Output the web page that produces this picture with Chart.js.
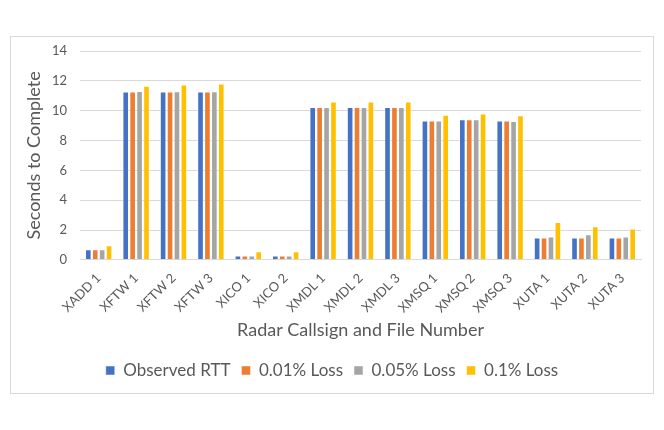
<!DOCTYPE html>
<html>
<head>
<meta charset="utf-8">
<script src="https://cdn.jsdelivr.net/npm/chart.js@4/dist/chart.umd.min.js"></script>
<style>
  html, body { margin: 0; padding: 0; background: #fff; }
  #frame {
    position: absolute; left: 10px; top: 36px;
    width: 642px; height: 356px;
    border: 1px solid #d9d9d9; background: #fff;
  }
  #chart { width: 642px; height: 356px; }
</style>
</head>
<body>
<div id="frame"><canvas id="chart"></canvas></div>
<script>
const labels = ['XADD 1', 'XFTW 1', 'XFTW 2', 'XFTW 3', 'XICO 1', 'XICO 2',
    'XMDL 1', 'XMDL 2', 'XMDL 3', 'XMSQ 1', 'XMSQ 2', 'XMSQ 3', 'XUTA 1', 'XUTA 2', 'XUTA 3'];

const observedRTT = [0.69, 11.27, 11.27, 11.27, 0.27, 0.27, 10.24, 10.24, 10.24, 9.32, 9.41, 9.32, 1.48, 1.48, 1.48];
const loss001 =     [0.69, 11.27, 11.27, 11.27, 0.27, 0.27, 10.24, 10.24, 10.24, 9.32, 9.41, 9.32, 1.49, 1.48, 1.49];
const loss005 =     [0.70, 11.31, 11.28, 11.28, 0.27, 0.27, 10.24, 10.24, 10.24, 9.32, 9.41, 9.30, 1.55, 1.70, 1.55];
const loss01 =      [0.96, 11.65, 11.74, 11.81, 0.56, 0.56, 10.60, 10.60, 10.60, 9.72, 9.79, 9.68, 2.53, 2.24, 2.08];

const FONT = 'Lato, "Open Sans", sans-serif';
const TEXT = '#595959';

function series(label, values, color) {
    return {
        label: label,
        data: values,
        backgroundColor: color,
        borderColor: 'rgba(255,255,255,0.6)',
        borderWidth: 0.8,
        barPercentage: 0.9,
        categoryPercentage: 0.74
    };
}

const data = {
    labels: labels,
    datasets: [
        series('Observed RTT', observedRTT, '#4472c4'),
        series('0.01% Loss', loss001, '#ed7d31'),
        series('0.05% Loss', loss005, '#a5a5a5'),
        series('0.1% Loss', loss01, '#ffc000')
    ]
};

const config = {
    type: 'bar',
    data: data,
    options: {
        responsive: false,
        animation: false,
        layout: {
            padding: { top: 14, right: 12, bottom: 4, left: 12 }
        },
        scales: {
            x: {
                grid: { display: false },
                border: { color: '#d9d9d9' },
                ticks: {
                    color: TEXT,
                    font: { family: FONT, size: 13 },
                    minRotation: 45,
                    maxRotation: 45,
                    padding: 2.5
                },
                title: {
                    display: true,
                    text: 'Radar Callsign and File Number',
                    color: TEXT,
                    font: { family: FONT, size: 18 },
                    padding: { top: 1, bottom: 10 }
                }
            },
            y: {
                min: 0,
                max: 14,
                afterFit: (scale) => { scale.width = 57; },
                ticks: {
                    stepSize: 2,
                    color: TEXT,
                    font: { family: FONT, size: 13 },
                    padding: 1
                },
                // transparent tick marks give the gap between labels and gridlines
                grid: {
                    color: '#d9d9d9',
                    drawTicks: true,
                    tickLength: 12,
                    tickColor: 'rgba(0,0,0,0)'
                },
                border: { display: false },
                title: {
                    display: true,
                    text: 'Seconds to Complete',
                    color: TEXT,
                    font: { family: FONT, size: 18 },
                    padding: { top: 0, bottom: 2 }
                }
            }
        },
        plugins: {
            legend: {
                position: 'bottom',
                labels: {
                    color: TEXT,
                    font: { family: FONT, size: 17 },
                    boxWidth: 9,
                    boxHeight: 9,
                    padding: 11
                }
            },
            tooltip: { enabled: false }
        }
    }
};

const canvas = document.getElementById('chart');
canvas.width = 642;
canvas.height = 356;
new Chart(canvas, config);
</script>
</body>
</html>
